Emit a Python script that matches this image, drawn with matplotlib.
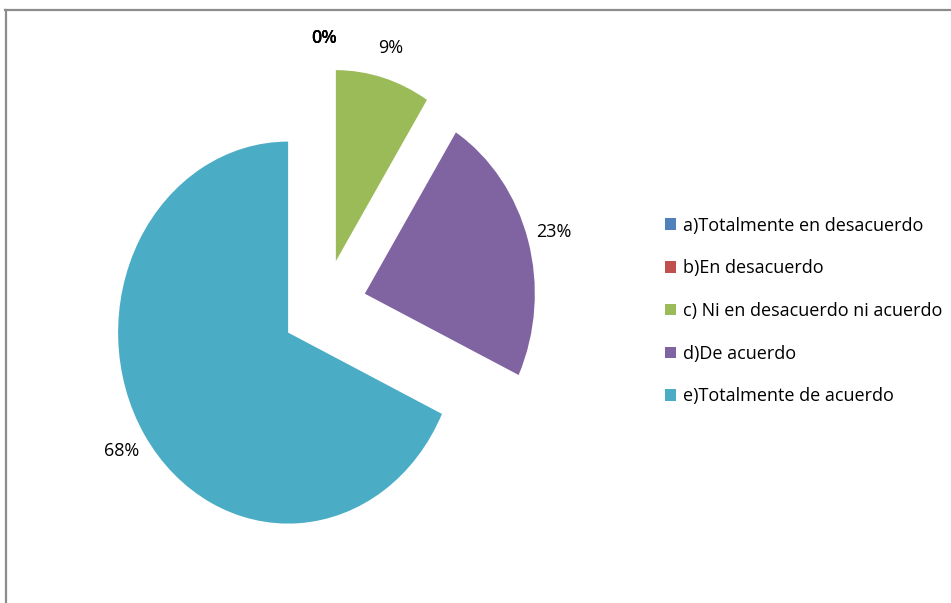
import matplotlib.pyplot as plt
from matplotlib.lines import Line2D

labels = ["a)Totalmente en desacuerdo", "b)En desacuerdo",
          "c) Ni en desacuerdo ni acuerdo", "d)De acuerdo",
          "e)Totalmente de acuerdo"]
values = [0, 0, 9, 23, 68]
colors = ["#4F81BD", "#C0504D", "#9BBB59", "#8064A2", "#4BACC6"]

plt.rcParams['font.family'] = ['Open Sans', 'DejaVu Sans']

W, H = 951, 603
fig = plt.figure(figsize=(W / 100, H / 100), dpi=100)
ax = fig.add_axes([0, 0, 1, 1])

# pie centre and radius in pixels (picture is slightly squashed horizontally)
cx, cy = 324, 296
rx, ry = 170, 191

wedges, texts, autotexts = ax.pie(
    values, colors=colors, startangle=90, counterclock=False,
    explode=[0.25] * len(values), autopct='%1.0f%%', pctdistance=1.16,
    textprops={'fontsize': 13, 'color': 'black'},
    wedgeprops={'linewidth': 0})
# the two 0% labels sit on top of each other and look heavier
for v, t in zip(values, autotexts):
    if v == 0:
        t.set_fontweight('semibold')
ax.set_aspect('auto')
ax.set_xlim(-cx / rx, (W - cx) / rx)
ax.set_ylim(-cy / ry, (H - cy) / ry)
ax.axis('off')

fig.legend(wedges, labels, loc='center left',
           bbox_to_anchor=(658 / W, (H - 311) / H), frameon=False,
           fontsize=13, handlelength=0.62, handleheight=0.62,
           handletextpad=0.35, labelspacing=1.37, borderaxespad=0)

# outer chart frame
fig.add_artist(Line2D([5 / W, 1], [1 - 10 / H, 1 - 10 / H],
                      color='#8c8c8c', linewidth=1.6))
fig.add_artist(Line2D([6 / W, 6 / W], [0, 1 - 10 / H],
                      color='#8c8c8c', linewidth=1.6))

fig.savefig('out.png', dpi=100)
